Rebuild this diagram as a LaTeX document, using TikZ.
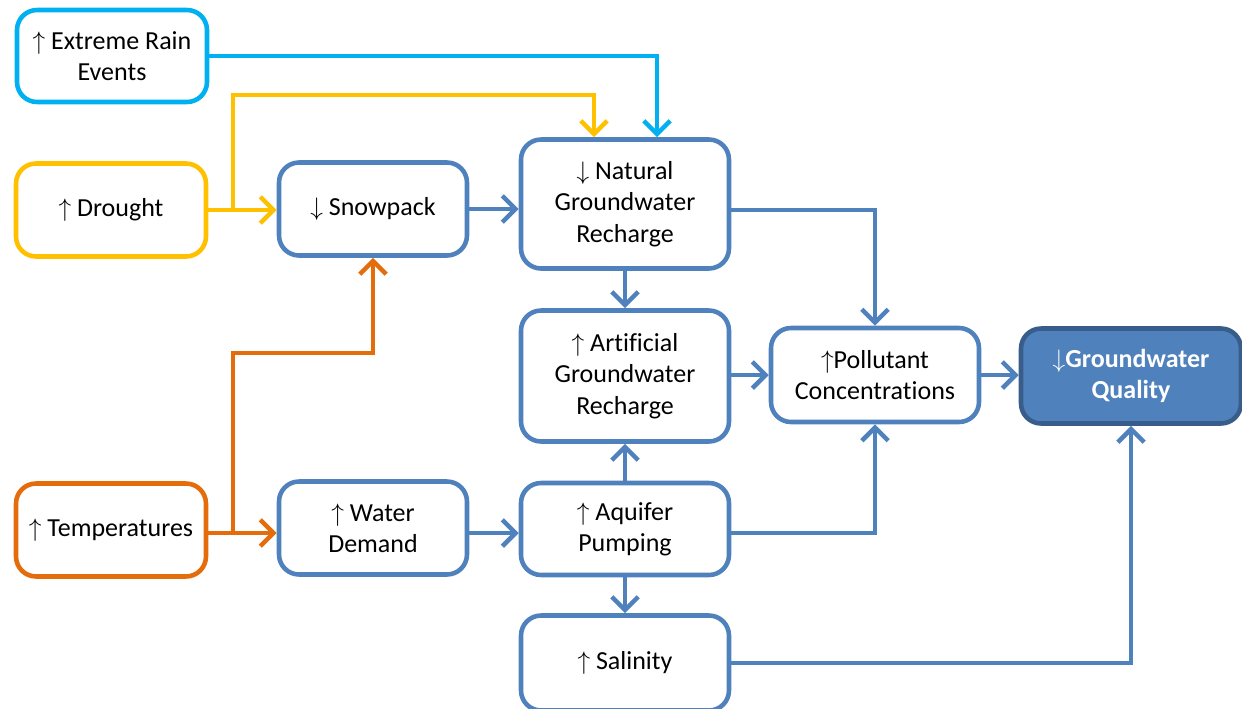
\documentclass[tikz,border=0pt]{standalone}
\usepackage{fontspec}
\setmainfont[Ligatures=NoCommon]{Carlito}
\usetikzlibrary{arrows.meta}

\definecolor{boxblue}{RGB}{79,129,189}
\definecolor{darkblue}{RGB}{56,93,138}
\definecolor{rainblue}{RGB}{0,176,240}
\definecolor{droughtyellow}{RGB}{255,192,0}
\definecolor{heatorange}{RGB}{228,108,10}

\newcommand{\incr}{$\uparrow$}
\newcommand{\decr}{$\downarrow$}

\tikzset{
  box/.style={draw=boxblue, fill=white, line width=2.6pt, rounded corners=0.4cm,
    align=center, font=\fontsize{14.8}{17.8}\selectfont,
    minimum width=4.16cm, minimum height=1.86cm, inner sep=2pt},
  link/.style={draw=boxblue, line width=2.6pt,
    -{Straight Barb[length=7.5pt,width=15pt,line width=2.6pt]}},
}

\begin{document}
\begin{tikzpicture}[x=0.02cm, y=-0.02cm]
            \useasboundingbox (0,0) rectangle (1242,708);
            \clip (0,0) rectangle (1242,708);

            % vertices
            \node[box, draw=rainblue, minimum width=3.8cm, minimum height=1.84cm] (rain) at (112,56) {\incr{} Extreme Rain\\Events};
            \node[box, draw=droughtyellow, minimum width=3.8cm] (drought) at (111,210) {\incr{} Drought};
            \node[box, minimum width=3.76cm] (snowpack) at (373,209) {\decr{} Snowpack};
            \node[box, minimum height=2.58cm] (natural) at (625,204) {\decr{} Natural\\Groundwater\\Recharge};
            \node[box, minimum height=2.62cm] (artificial) at (625,376) {\incr{} Artificial\\Groundwater\\Recharge};
            \node[box, minimum height=1.88cm] (pollutant) at (875,375) {\incr{}Pollutant\\Concentrations};
            \node[box, draw=darkblue, fill=boxblue, text=white, font=\fontsize{14.8}{17.8}\selectfont\bfseries,
                  minimum width=4.4cm, minimum height=1.9cm] (quality) at (1131,376) {\decr{}Groundwater\\Quality};
            \node[box, draw=heatorange, minimum width=3.8cm] (temps) at (111,530) {\incr{} Temperatures};
            \node[box, minimum width=3.76cm] (demand) at (373,528) {\incr{} Water\\Demand};
            \node[box, minimum height=1.84cm] (pumping) at (625,529) {\incr{} Aquifer\\Pumping};
            \node[box, minimum height=1.9cm] (salinity) at (625,663) {\incr{} Salinity};

            % corners
            \coordinate (dsplit) at (233,210);
            \coordinate (dbend) at (300,95);
            \coordinate (tsplit) at (233,533);
            \coordinate (tbend) at (300,353);

            % edges
            \draw[link, draw=rainblue] (rain.east) -| ([xshift=0.64cm]natural.north);
            \draw[link, draw=droughtyellow] (drought.east) -- (drought.east -| snowpack.west);
            \draw[link, draw=droughtyellow] (dsplit) |- (dbend) -| ([xshift=-0.62cm]natural.north);
            \draw[link, draw=heatorange] (temps.east |- tsplit) -- (tsplit -| demand.west);
            \draw[link, draw=heatorange] (tsplit) |- (tbend) -| (snowpack.south);
            \draw[link] (snowpack.east) -- (snowpack.east -| natural.west);
            \draw[link] (natural.south) -- (artificial.north);
            \draw[link] ([yshift=-0.12cm]natural.east) -| (pollutant.north);
            \draw[link] (artificial.east |- pollutant.west) -- (pollutant.west);
            \draw[link] (pollutant.east) -- (quality.west |- pollutant.east);
            \draw[link] (demand.east |- tsplit) -- (tsplit -| pumping.west);
            \draw[link] (pumping.north) -- (artificial.south);
            \draw[link] ([yshift=-0.08cm]pumping.east) -| (pollutant.south);
            \draw[link] (pumping.south) -- (salinity.north);
            \draw[link] (salinity.east) -| (quality.south);
\end{tikzpicture}
\end{document}
